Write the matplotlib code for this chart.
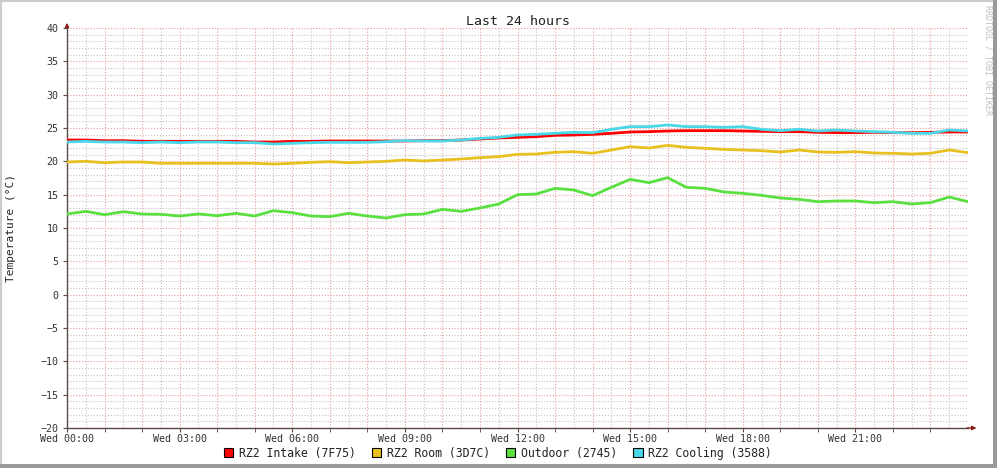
import numpy as np
import matplotlib
matplotlib.use("Agg")
import matplotlib.pyplot as plt
from matplotlib.patches import Patch, Rectangle

# time in hours since Wed 00:00, one sample every 30 min
hours = np.arange(0, 24.5, 0.5)

intake = [23.2, 23.2, 23.1, 23.1, 23.0, 23.0, 23.0, 23.0, 23.0, 23.0, 22.9, 22.9,
          23.0, 23.0, 23.05, 23.05, 23.05, 23.05, 23.05, 23.1, 23.1, 23.2, 23.35, 23.5,
          23.6, 23.7, 23.9, 23.95, 24.05, 24.2, 24.4, 24.45, 24.55, 24.6, 24.6, 24.6,
          24.55, 24.5, 24.45, 24.45, 24.35, 24.3, 24.3, 24.35, 24.3, 24.3, 24.35, 24.4,
          24.4]
room = [19.9, 20.0, 19.8, 19.9, 19.9, 19.7, 19.7, 19.7, 19.7, 19.7, 19.7, 19.6,
        19.7, 19.85, 19.95, 19.8, 19.9, 20.0, 20.2, 20.05, 20.2, 20.35, 20.55, 20.7,
        21.05, 21.1, 21.35, 21.45, 21.2, 21.7, 22.2, 22.0, 22.4, 22.1, 21.95, 21.8,
        21.7, 21.6, 21.4, 21.7, 21.4, 21.35, 21.45, 21.25, 21.2, 21.1, 21.2, 21.7,
        21.3]
outdoor = [12.1, 12.5, 12.0, 12.45, 12.1, 12.05, 11.8, 12.1, 11.85, 12.2, 11.8, 12.6,
           12.3, 11.8, 11.7, 12.2, 11.8, 11.5, 12.0, 12.1, 12.8, 12.5, 13.0, 13.6,
           15.0, 15.1, 15.95, 15.7, 14.85, 16.1, 17.3, 16.8, 17.55, 16.1, 15.95, 15.4,
           15.2, 14.9, 14.5, 14.3, 13.95, 14.05, 14.05, 13.8, 13.95, 13.6, 13.8, 14.65,
           13.95]
cooling = [22.9, 23.0, 22.9, 22.9, 22.8, 22.9, 22.8, 22.9, 22.9, 22.8, 22.8, 22.6,
           22.7, 22.8, 22.85, 22.85, 22.85, 22.95, 23.1, 23.05, 23.05, 23.2, 23.45, 23.6,
           23.95, 24.05, 24.2, 24.35, 24.3, 24.8, 25.2, 25.2, 25.45, 25.2, 25.2, 25.1,
           25.2, 24.8, 24.6, 24.8, 24.55, 24.7, 24.55, 24.45, 24.35, 24.2, 24.2, 24.7,
           24.55]

names = ["RZ2 Intake (7F75)", "RZ2 Room (3D7C)", "Outdoor (2745)", "RZ2 Cooling (3588)"]
colors = ["#ff0000", "#e8c020", "#5ae040", "#48d8e8"]
tick_hours = [0, 3, 6, 9, 12, 15, 18, 21]
tick_labels = ["Wed 00:00", "Wed 03:00", "Wed 06:00", "Wed 09:00",
               "Wed 12:00", "Wed 15:00", "Wed 18:00", "Wed 21:00"]

plt.rcParams['font.family'] = ['DejaVu Sans Mono']

fig = plt.figure(figsize=(9.97, 4.68), dpi=100)
ax = fig.add_axes([67 / 997, 40 / 468, 901 / 997, 400 / 468])

# grid, rrdtool style
for v in np.arange(-20, 41, 1):
    major = v % 5 == 0
    ax.axhline(v, color="#f09a9a" if major else "#c4c4c4", lw=0.8,
               ls=(0, (1, 1.6)), zorder=0)
for h in np.arange(0.5, 24, 0.5):
    major = h % 1 == 0
    ax.axvline(h, color="#f09a9a" if major else "#c4c4c4", lw=0.8,
               ls=(0, (1, 1.6)), zorder=0)

for vals, c in zip([intake, room, outdoor, cooling], colors):
    ax.plot(hours, vals, color=c, lw=2.0, zorder=3)

ax.set_xlim(0, 24)
ax.set_ylim(-20, 40)
ax.set_yticks(np.arange(-20, 41, 5))
ax.set_xticks(tick_hours)
ax.set_xticklabels(tick_labels)
ax.set_xticks(np.arange(0, 24, 1), minor=True)
ax.tick_params(axis="both", labelsize=7.2, colors="#5a4a4a", labelcolor="#333333",
               length=3, width=0.8)
ax.tick_params(axis="x", which="minor", length=3, color="#5a4a4a")
ax.tick_params(axis="x", pad=1)
ax.tick_params(axis="y", pad=3)
for s in ["top", "right"]:
    ax.spines[s].set_visible(False)
for s in ["left", "bottom"]:
    ax.spines[s].set_color("#5a4a4a")
    ax.spines[s].set_linewidth(1.0)
ax.set_ylabel("Temperature (°C)", fontsize=8, color="#222222")
ax.yaxis.set_label_coords((16 - 67) / 901, 0.5)
ax.set_title("Last 24 hours", fontsize=9.5, color="#222222", pad=1)

# axis arrows
ax.annotate("", xy=(24.3, -20), xytext=(23.9, -20), xycoords="data",
            arrowprops=dict(arrowstyle="-|>", color="#8b1a1a", lw=1.0,
                            mutation_scale=6), annotation_clip=False)
ax.annotate("", xy=(0, 41.2), xytext=(0, 39.8), xycoords="data",
            arrowprops=dict(arrowstyle="-|>", color="#8b1a1a", lw=1.0,
                            mutation_scale=6), annotation_clip=False)

handles = [Patch(facecolor=c, edgecolor="black", linewidth=0.8) for c in colors]
fig.legend(handles, names, loc="center", bbox_to_anchor=(498 / 997, 1 - 453 / 468),
           ncol=4, frameon=False, fontsize=8.3, handlelength=0.8, handleheight=0.9,
           handletextpad=0.5, columnspacing=1.4, labelcolor="#222222")

fig.text(988 / 997, 1 - 60 / 468, "RRDTOOL / TOBI OETIKER", rotation=270,
         fontsize=6, color="#c0c0c0", ha="center", va="center")

# outer frame
fig.add_artist(Rectangle((0, 0), 1, 1, transform=fig.transFigure, fill=False,
                         edgecolor="#cccccc", lw=3))
fig.add_artist(Rectangle((0, 0), 1, 4 / 468, transform=fig.transFigure,
                         color="#999999", lw=0))
fig.add_artist(Rectangle((1 - 4 / 997, 0), 4 / 997, 1, transform=fig.transFigure,
                         color="#999999", lw=0))

fig.savefig("out.png", dpi=100)
